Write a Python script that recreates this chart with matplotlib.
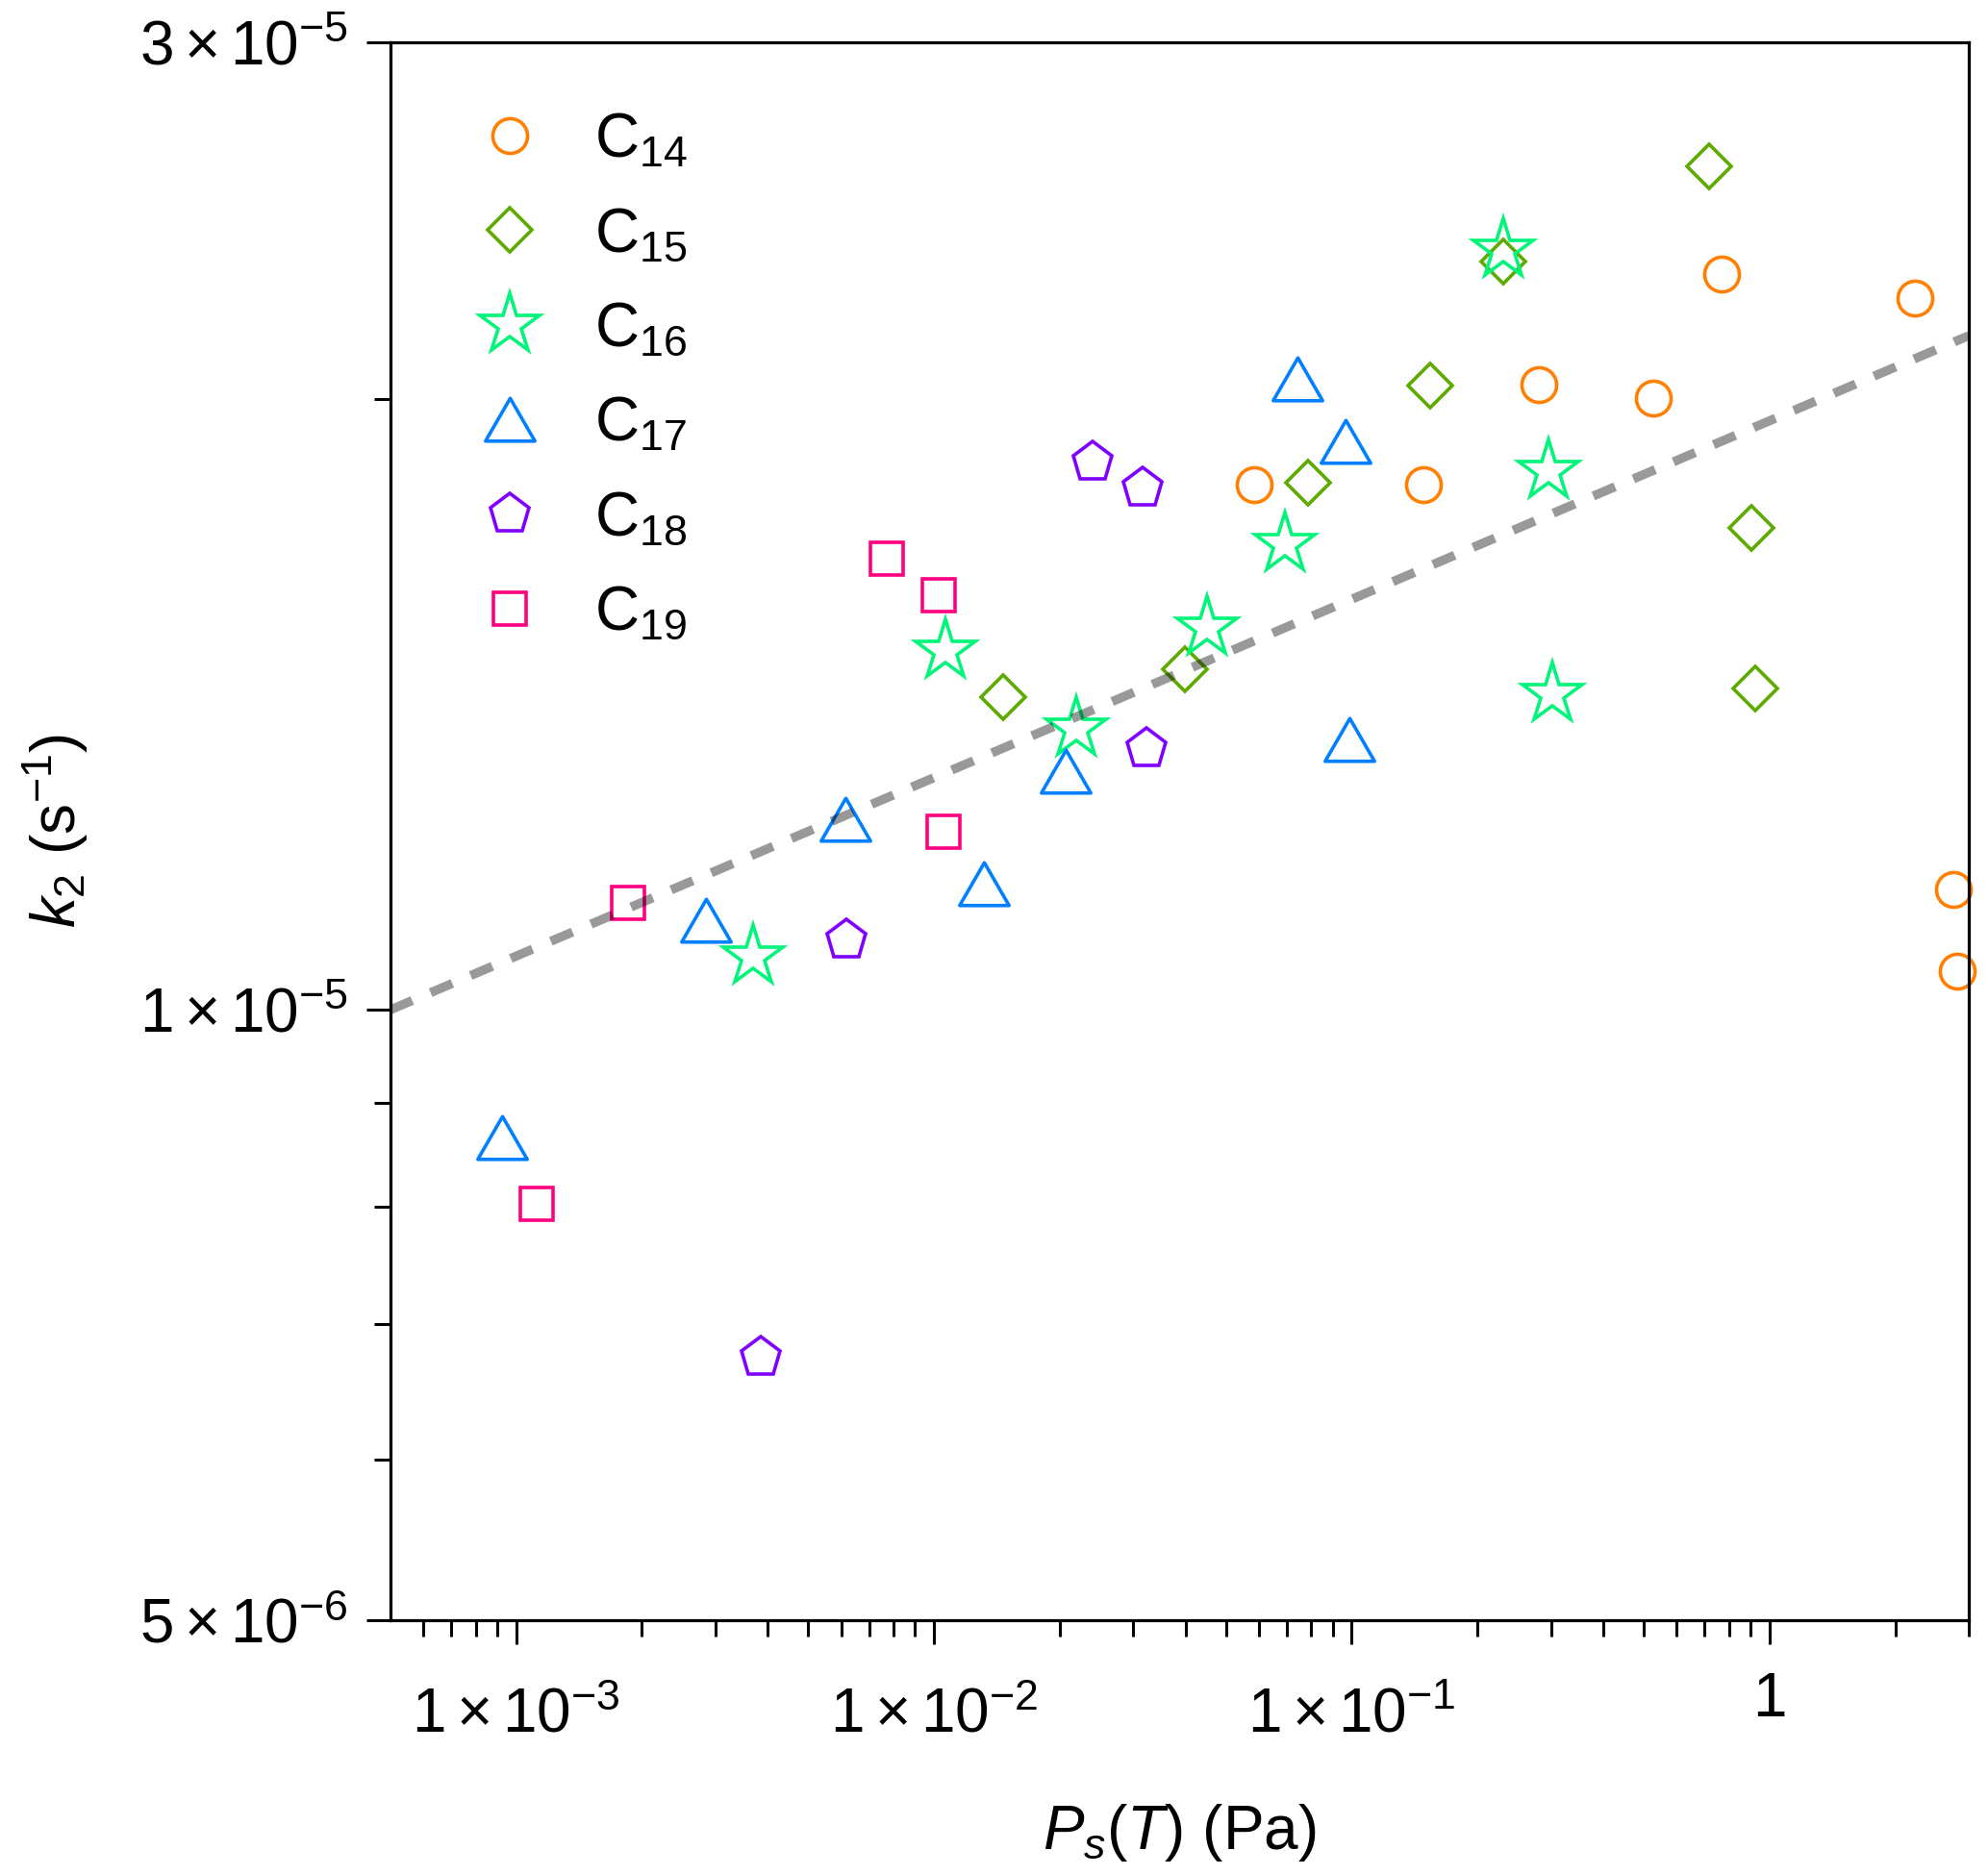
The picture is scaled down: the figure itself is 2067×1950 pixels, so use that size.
import matplotlib
matplotlib.use('Agg')
import matplotlib.pyplot as plt
from matplotlib.markers import MarkerStyle
from matplotlib.path import Path
from matplotlib.ticker import NullFormatter
from matplotlib.transforms import ScaledTranslation

plt.rcParams['font.family'] = ['Liberation Sans', 'DejaVu Sans']
plt.rcParams['mathtext.fontset'] = 'custom'
plt.rcParams['mathtext.rm'] = 'Liberation Sans'
plt.rcParams['mathtext.it'] = 'Liberation Sans:italic'
plt.rcParams['mathtext.bf'] = 'Liberation Sans:bold'

# ---------------- data ----------------
series_names = ['C$_{14}$', 'C$_{15}$', 'C$_{16}$', 'C$_{17}$', 'C$_{18}$', 'C$_{19}$']

c14_x = [0.0583, 0.1484, 0.2803, 0.528, 0.770, 2.226, 2.752, 2.811]
c14_y = [1.815e-5, 1.815e-5, 2.033e-5, 2.004e-5, 2.305e-5, 2.244e-5, 1.147e-5, 1.045e-5]

c15_x = [0.716, 0.2304, 0.1544, 0.0786, 0.903, 0.924, 0.0398, 0.01464]
c15_y = [2.605e-5, 2.34e-5, 2.031e-5, 1.819e-5, 1.729e-5, 1.441e-5, 1.472e-5, 1.426e-5]

c16_x = [0.2304, 0.2953, 0.0691, 0.04504, 0.302, 0.0219, 0.01066, 0.003694]
c16_y = [2.371e-5, 1.844e-5, 1.697e-5, 1.543e-5, 1.431e-5, 1.376e-5, 1.503e-5, 1.062e-5]

c17_x = [0.0743, 0.0965, 0.0989, 0.02067, 0.00614, 0.01317, 0.002848, 0.000926]
c17_y = [2.047e-5, 1.906e-5, 1.36e-5, 1.311e-5, 1.242e-5, 1.154e-5, 1.107e-5, 8.65e-6]

c18_x = [0.02393, 0.0315, 0.0323, 0.00618, 0.003846]
c18_y = [1.862e-5, 1.807e-5, 1.344e-5, 1.082e-5, 6.74e-6]

c19_x = [0.00771, 0.01027, 0.01054, 0.001853, 0.001122]
c19_y = [1.669e-5, 1.601e-5, 1.224e-5, 1.129e-5, 8.02e-6]

fit_x = [5e-4, 3.0]
fit_y = [1.0e-5, 2.15e-5]

x_major = [1e-3, 1e-2, 1e-1, 1]
x_major_labels = [r'$1\times10^{-3}$', r'$1\times10^{-2}$', r'$1\times10^{-1}$', '1']
x_minor = [6e-4, 7e-4, 8e-4, 9e-4,
           2e-3, 3e-3, 4e-3, 5e-3, 6e-3, 7e-3, 8e-3, 9e-3,
           2e-2, 3e-2, 4e-2, 5e-2, 6e-2, 7e-2, 8e-2, 9e-2,
           0.2, 0.3, 0.4, 0.5, 0.6, 0.7, 0.8, 0.9, 2, 3]
y_major = [5e-6, 1e-5, 3e-5]
y_major_labels = [r'$5\times10^{-6}$', r'$1\times10^{-5}$', r'$3\times10^{-5}$']
y_minor = [6e-6, 7e-6, 8e-6, 9e-6, 2e-5]

# ---------------- styles ----------------
tri_path = Path([(0, 0.433), (-0.5, -0.433), (0.5, -0.433), (0, 0.433)],
                [Path.MOVETO, Path.LINETO, Path.LINETO, Path.CLOSEPOLY])
styles = [
    dict(marker=MarkerStyle('o'), ms=26, color='#FF8000'),
    dict(marker=MarkerStyle('D', joinstyle='miter'), ms=23.5, color='#5DAA00'),
    dict(marker=MarkerStyle('*', joinstyle='miter'), ms=47, color='#00F57A'),
    dict(marker=MarkerStyle(tri_path, joinstyle='miter'), ms=37, color='#0080FF'),
    dict(marker=MarkerStyle('p', joinstyle='miter'), ms=31, color='#8000FF'),
    dict(marker=MarkerStyle('s', joinstyle='miter'), ms=25, color='#FF0080'),
]
xs = [c14_x, c15_x, c16_x, c17_x, c18_x, c19_x]
ys = [c14_y, c15_y, c16_y, c17_y, c18_y, c19_y]

fig = plt.figure(figsize=(20.67, 19.5), dpi=100)
ax = fig.add_axes([406 / 2067, 1 - 1685 / 1950, (2047 - 406) / 2067, (1685 - 44) / 1950])
ax.set_xscale('log')
ax.set_yscale('log')

for x, y, st, name in zip(xs, ys, styles, series_names):
    ax.plot(x, y, linestyle='none', marker=st['marker'], markersize=st['ms'],
            markerfacecolor='none', markeredgecolor=st['color'],
            markeredgewidth=2.6, label=name, zorder=2, clip_on=False)

ax.plot(fit_x, fit_y, color='black', alpha=0.4, linewidth=6.8,
        dashes=(2.6, 2.2), dash_capstyle='butt', zorder=3)

ax.set_xlim(5e-4, 3)
ax.set_ylim(5e-6, 3e-5)

ax.set_xticks(x_major, labels=x_major_labels)
ax.set_xticks(x_minor, minor=True)
ax.set_yticks(y_major, labels=y_major_labels)
ax.set_yticks(y_minor, minor=True)
ax.xaxis.set_minor_formatter(NullFormatter())
ax.yaxis.set_minor_formatter(NullFormatter())

ax.tick_params(which='both', direction='out', top=False, right=False, width=2.2, colors='black')
ax.tick_params(which='major', length=18, labelsize=46)
ax.tick_params(axis='x', which='major', pad=32)
ax.tick_params(axis='y', which='major', pad=14)
ax.tick_params(which='minor', length=12)
for sp in ax.spines.values():
    sp.set_linewidth(2.3)

# the plain "1" label sits a little higher in the reference
last_lbl = ax.xaxis.get_major_ticks()[-1].label1
last_lbl.set_transform(last_lbl.get_transform() + ScaledTranslation(0, 12 / 72, fig.dpi_scale_trans))

ax.set_xlabel(r'$P_s(T)$ (Pa)', fontsize=46)
ax.set_ylabel(r'$k_2$ (s$^{-1}$)', fontsize=46)
ax.xaxis.set_label_coords(0.5, -0.115)
ax.yaxis.set_label_coords(-0.19, 0.5)

ax.legend(loc='upper left', bbox_to_anchor=(0.056, 0.956), frameon=False,
          fontsize=46, borderpad=0, borderaxespad=0, handlelength=1.0,
          handletextpad=0.875, labelspacing=0.6, numpoints=1)

fig.savefig('out.png', dpi=100)
